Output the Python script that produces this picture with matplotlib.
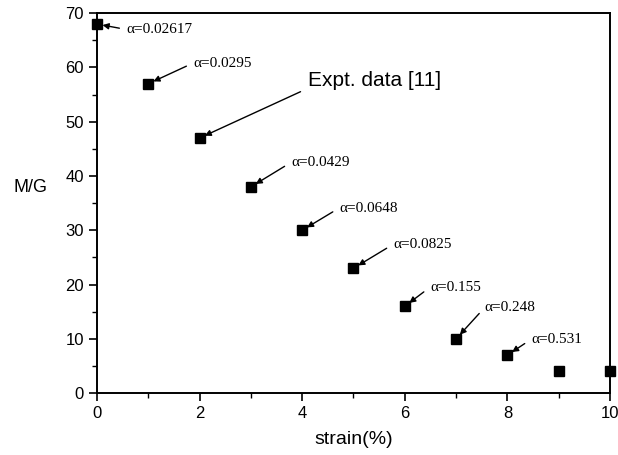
import matplotlib.pyplot as plt
from matplotlib.ticker import MultipleLocator

# measured points
strain = [0, 1, 2, 3, 4, 5, 6, 7, 8, 9, 10]
mg = [68, 57, 47, 38, 30, 23, 16, 10, 7, 4, 4]

# alpha labels: (point index, label, text x, text y)
labels = [
    (0, "α=0.02617", 0.57, 67.0),
    (1, "α=0.0295", 1.87, 60.8),
    (3, "α=0.0429", 3.78, 42.5),
    (4, "α=0.0648", 4.72, 34.1),
    (5, "α=0.0825", 5.77, 27.4),
    (6, "α=0.155", 6.49, 19.5),
    (7, "α=0.248", 7.56, 15.8),
    (8, "α=0.531", 8.46, 9.9),
]
expt_label = "Expt. data [11]"
expt_pos = (4.12, 57.6)

fig = plt.figure(figsize=(6.18, 4.55), dpi=100)
ax = fig.add_axes([0.157, 0.136, 0.83, 0.835])

ax.plot(strain, mg, 's', color='k', markersize=7.5, clip_on=False, zorder=3)

for i, txt, tx, ty in labels:
    ax.annotate(txt, xy=(strain[i], mg[i]), xytext=(tx, ty),
                fontsize=11, family='Liberation Serif', ha='left', va='center',
                arrowprops=dict(arrowstyle='-|>', color='k', lw=1.0,
                                mutation_scale=9, shrinkA=3, shrinkB=4,
                                relpos=(0, 0.5)))

ax.annotate(expt_label, xy=(strain[2], mg[2]), xytext=expt_pos,
            fontsize=15, family='Liberation Sans', ha='left', va='center',
            arrowprops=dict(arrowstyle='-|>', color='k', lw=1.0,
                            mutation_scale=9, shrinkA=4, shrinkB=4,
                            relpos=(0, 0.1)))

ax.set_xlim(0, 10)
ax.set_ylim(0, 70)
ax.xaxis.set_major_locator(MultipleLocator(2))
ax.xaxis.set_minor_locator(MultipleLocator(1))
ax.yaxis.set_major_locator(MultipleLocator(10))
ax.yaxis.set_minor_locator(MultipleLocator(5))
ax.tick_params(which='major', direction='out', length=6, width=1.2,
               labelsize=12, top=False, right=False)
ax.tick_params(which='minor', direction='out', length=3.5, width=1.0,
               top=False, right=False)
for lab in ax.get_xticklabels() + ax.get_yticklabels():
    lab.set_family('Liberation Sans')
for s in ax.spines.values():
    s.set_linewidth(1.4)

ax.set_xlabel("strain(%)", fontsize=14, family='Liberation Sans', labelpad=7)
ax.set_ylabel("M/G", fontsize=13, family='Liberation Sans', rotation=0,
              va='center', ha='center')
ax.yaxis.set_label_coords(-0.129, 0.54)

fig.savefig("out.png", dpi=100)
